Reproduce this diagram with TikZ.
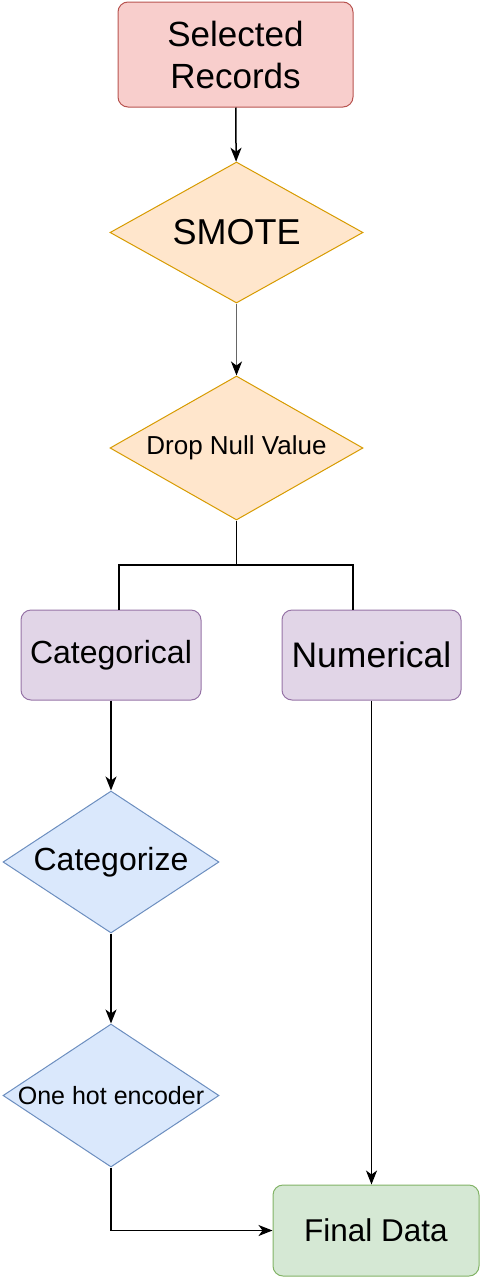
\documentclass[tikz,border=0pt]{standalone}
\usepackage{fontspec}
\setmainfont{Liberation Sans}
\usetikzlibrary{shapes.geometric,arrows.meta}
\definecolor{redfill}{HTML}{F8CECC}\definecolor{reddraw}{HTML}{B85450}
\definecolor{orgfill}{HTML}{FFE6CC}\definecolor{orgdraw}{HTML}{D79B00}
\definecolor{purfill}{HTML}{E1D5E7}\definecolor{purdraw}{HTML}{9673A6}
\definecolor{blufill}{HTML}{DAE8FC}\definecolor{bludraw}{HTML}{6C8EBF}
\definecolor{grnfill}{HTML}{D5E8D4}\definecolor{grndraw}{HTML}{82B366}
\begin{document}
\begin{tikzpicture}[x=1pt,y=-1pt,
    box/.style={draw,rounded corners=10pt,line width=1pt,inner sep=0pt,align=center},
    dia/.style={draw,diamond,line width=1pt,inner sep=0pt},
    flow/.style={line width=1.5pt,-{Stealth[length=14pt,width=11pt,inset=4pt]}},
    plain/.style={line width=1.5pt}]
    \useasboundingbox (0,0) rectangle (483,1280);
    % Top of the pipeline
    \node[box,fill=redfill,draw=reddraw,minimum width=235pt,minimum height=105pt,
      font={\fontsize{35}{42}\selectfont}] (rec) at (235.5,54.5) {Selected\\Records};
    \node[dia,fill=orgfill,draw=orgdraw,minimum width=253pt,minimum height=141pt,
      label={[font={\fontsize{36}{42}\selectfont}]center:SMOTE}] (smote) at (236.5,232.5) {};
    \node[dia,fill=orgfill,draw=orgdraw,minimum width=253pt,minimum height=144pt,
      label={[font={\fontsize{26}{30}\selectfont}]center:Drop Null Value}] (drop) at (236.5,448) {};
    \coordinate (split) at (236.5,565);

    % Two branches
    \node[box,fill=purfill,draw=purdraw,minimum width=180pt,minimum height=90pt,
      font={\fontsize{32}{38}\selectfont}] (cat) at (111,655) {Categorical};
    \node[box,fill=purfill,draw=purdraw,minimum width=179pt,minimum height=90pt,
      font={\fontsize{35.5}{40}\selectfont}] (num) at (371.5,655) {Numerical};
    \node[dia,fill=blufill,draw=bludraw,minimum width=216pt,minimum height=142pt,
      label={[font={\fontsize{32}{38}\selectfont}]center:Categorize}] (catz) at (111,862) {};
    \node[dia,fill=blufill,draw=bludraw,minimum width=216pt,minimum height=143pt,
      label={[font={\fontsize{25}{30}\selectfont}]center:One hot encoder}] (ohe) at (111,1095.5) {};

    % Result
    \node[box,fill=grnfill,draw=grndraw,minimum width=206pt,minimum height=91pt,
      font={\fontsize{31.5}{38}\selectfont}] (final) at (376,1230.5) {Final Data};

    % Connectors
    \draw[flow] (rec) -- (smote);
    \draw[flow,draw=black!60,-{Stealth[length=14pt,width=11pt,inset=4pt,black]}] (smote) -- (drop);
    \draw[plain] (drop.south) -- (split);
    \draw[plain] (split) -| ([xshift=8pt]cat.north);
    \draw[plain] (split) -| ([xshift=-18.5pt]num.north);
    \draw[flow] (cat) -- (catz);
    \draw[flow] (catz) -- (ohe);
    \draw[flow] (ohe.south) |- (final.west);
    \draw[flow] (num.south) -- (num.south |- final.north);
  \end{tikzpicture}
\end{document}
